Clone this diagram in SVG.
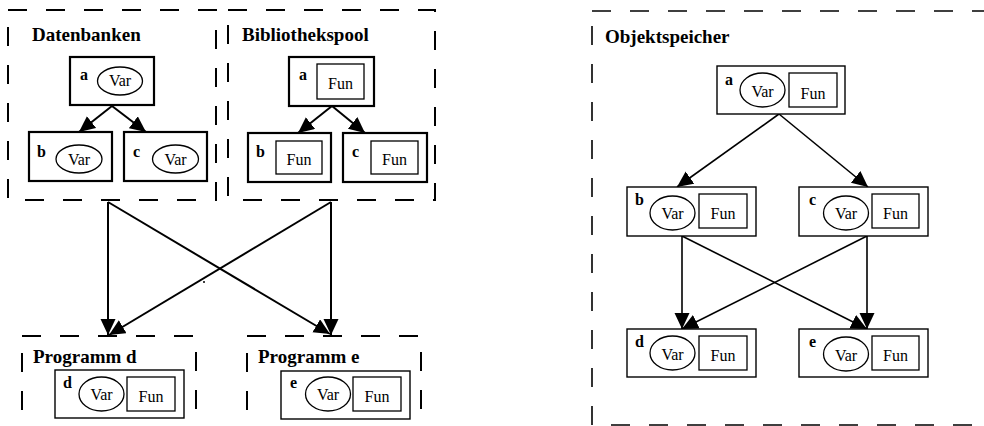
<svg xmlns="http://www.w3.org/2000/svg" width="984" height="426" viewBox="0 0 984 426">
  <style>
    .cluster { fill: none; stroke: #000; stroke-width: 2; stroke-dasharray: 19 19; }
    .cluster-thin { fill: none; stroke: #000; stroke-width: 1.6; stroke-dasharray: 19 19; }
    .title { font-family: "Liberation Serif", "Times New Roman", serif; font-weight: bold; font-size: 19px; fill: #000; }
    .node-thick { fill: #fff; stroke: #000; stroke-width: 2.2; }
    .node { fill: #fff; stroke: #000; stroke-width: 1.4; }
    .part { fill: #fff; stroke: #000; stroke-width: 1.3; }
    .id { font-family: "Liberation Serif", "Times New Roman", serif; font-weight: bold; font-size: 16px; fill: #000; }
    .lbl { font-family: "Liberation Serif", "Times New Roman", serif; font-size: 16px; fill: #000; text-anchor: middle; }
    .edge { fill: none; stroke: #000; stroke-width: 2; marker-end: url(#arrow); }
    .edge-thin { fill: none; stroke: #000; stroke-width: 1.6; marker-end: url(#arrow); }
  </style>
  <defs>
    <marker id="arrow" markerUnits="userSpaceOnUse" markerWidth="18" markerHeight="16" refX="16" refY="7.5" orient="auto">
      <path d="M0,0 L16,7.5 L0,15 z" fill="#000"/>
    </marker>
  </defs>
  <rect width="984" height="426" fill="#fff"/>

  <!-- clusters -->
  <g id="cluster-datenbanken">
    <rect class="cluster" x="8" y="10" width="208" height="190"/>
    <text class="title" x="32" y="41">Datenbanken</text>
  </g>
  <g id="cluster-bibliothekspool">
    <rect class="cluster" x="228" y="10" width="207" height="190"/>
    <text class="title" x="242" y="41">Bibliothekspool</text>
  </g>
  <g id="cluster-programm-d">
    <rect class="cluster" x="22" y="336" width="174" height="110"/>
    <text class="title" x="33" y="363">Programm d</text>
  </g>
  <g id="cluster-programm-e">
    <rect class="cluster" x="247" y="336" width="174" height="110"/>
    <text class="title" x="258" y="363">Programm e</text>
  </g>
  <g id="cluster-objektspeicher">
    <rect class="cluster-thin" x="592" y="11" width="420" height="414"/>
    <text class="title" x="605" y="43">Objektspeicher</text>
  </g>

  <!-- connectors -->
  <g id="connectors">
    <line class="edge" x1="112" y1="106" x2="79" y2="132"/>
    <line class="edge" x1="112" y1="106" x2="146" y2="132"/>
    <line class="edge" x1="332" y1="106" x2="298" y2="133"/>
    <line class="edge" x1="332" y1="106" x2="365" y2="133"/>
    <line class="edge" x1="108" y1="202" x2="108" y2="335"/>
    <line class="edge" x1="108" y1="202" x2="330" y2="334"/>
    <line class="edge" x1="331" y1="202" x2="331" y2="335"/>
    <line class="edge" x1="331" y1="202" x2="109" y2="335"/>
    <line class="edge-thin" x1="779" y1="114" x2="677" y2="187"/>
    <line class="edge-thin" x1="779" y1="114" x2="868" y2="187"/>
    <line class="edge-thin" x1="682" y1="236" x2="682" y2="329"/>
    <line class="edge-thin" x1="682" y1="236" x2="867" y2="329"/>
    <line class="edge-thin" x1="867" y1="236" x2="867" y2="329"/>
    <line class="edge-thin" x1="867" y1="236" x2="682" y2="329"/>
  </g>
  <circle id="point" cx="204" cy="282" r="1" fill="#000"/>

  <!-- Datenbanken nodes -->
  <g id="db-a">
    <rect class="node-thick" x="70" y="57" width="84" height="48"/>
    <text class="id" x="80" y="80">a</text>
    <ellipse class="part" cx="120" cy="81" rx="22.5" ry="14"/>
    <text class="lbl" x="120" y="86">Var</text>
  </g>
  <g id="db-b">
    <rect class="node-thick" x="29" y="132" width="83" height="49"/>
    <text class="id" x="37" y="157">b</text>
    <ellipse class="part" cx="79" cy="159" rx="23" ry="14"/>
    <text class="lbl" x="79" y="165">Var</text>
  </g>
  <g id="db-c">
    <rect class="node-thick" x="124" y="132" width="83" height="49"/>
    <text class="id" x="133" y="157">c</text>
    <ellipse class="part" cx="175.5" cy="159" rx="23" ry="14"/>
    <text class="lbl" x="175.5" y="165">Var</text>
  </g>

  <!-- Bibliothekspool nodes -->
  <g id="lib-a">
    <rect class="node-thick" x="289" y="57" width="85" height="49"/>
    <text class="id" x="299" y="80">a</text>
    <rect class="part" x="317" y="64" width="47" height="35"/>
    <text class="lbl" x="340.5" y="89">Fun</text>
  </g>
  <g id="lib-b">
    <rect class="node-thick" x="248" y="133" width="83" height="49"/>
    <text class="id" x="256" y="157">b</text>
    <rect class="part" x="276" y="141" width="46" height="33"/>
    <text class="lbl" x="299" y="165">Fun</text>
  </g>
  <g id="lib-c">
    <rect class="node-thick" x="343" y="133" width="84" height="49"/>
    <text class="id" x="352" y="157">c</text>
    <rect class="part" x="371" y="141" width="47" height="33"/>
    <text class="lbl" x="394.5" y="165">Fun</text>
  </g>

  <!-- Programm nodes -->
  <g id="prog-d">
    <rect class="node" x="55" y="370" width="129" height="48"/>
    <text class="id" x="63" y="388">d</text>
    <ellipse class="part" cx="101.5" cy="394" rx="22.5" ry="17"/>
    <text class="lbl" x="101.5" y="400">Var</text>
    <rect class="part" x="127" y="377" width="48" height="34"/>
    <text class="lbl" x="151" y="402">Fun</text>
  </g>
  <g id="prog-e">
    <rect class="node" x="281" y="371" width="129" height="48"/>
    <text class="id" x="290" y="388">e</text>
    <ellipse class="part" cx="328" cy="394" rx="22.5" ry="17"/>
    <text class="lbl" x="328" y="400">Var</text>
    <rect class="part" x="353" y="377" width="48" height="34"/>
    <text class="lbl" x="377" y="402">Fun</text>
  </g>

  <!-- Objektspeicher nodes -->
  <g id="obj-a">
    <rect class="node" x="717" y="66" width="128" height="48"/>
    <text class="id" x="725" y="85">a</text>
    <ellipse class="part" cx="762.5" cy="90" rx="22.5" ry="17"/>
    <text class="lbl" x="762.5" y="97">Var</text>
    <rect class="part" x="789" y="73" width="48" height="34"/>
    <text class="lbl" x="813" y="99">Fun</text>
  </g>
  <g id="obj-b">
    <rect class="node" x="627" y="187" width="129" height="49"/>
    <text class="id" x="635" y="205">b</text>
    <ellipse class="part" cx="672.5" cy="213" rx="22.5" ry="17"/>
    <text class="lbl" x="672.5" y="219">Var</text>
    <rect class="part" x="699" y="194" width="48" height="34"/>
    <text class="lbl" x="723" y="219">Fun</text>
  </g>
  <g id="obj-c">
    <rect class="node" x="799" y="187" width="129" height="49"/>
    <text class="id" x="809" y="205">c</text>
    <ellipse class="part" cx="846" cy="213" rx="22.5" ry="17"/>
    <text class="lbl" x="846" y="219">Var</text>
    <rect class="part" x="872" y="194" width="47" height="34"/>
    <text class="lbl" x="895.5" y="219">Fun</text>
  </g>
  <g id="obj-d">
    <rect class="node" x="627" y="329" width="129" height="48"/>
    <text class="id" x="635" y="347">d</text>
    <ellipse class="part" cx="672.5" cy="353" rx="22.5" ry="17"/>
    <text class="lbl" x="672.5" y="360">Var</text>
    <rect class="part" x="699" y="336" width="48" height="34"/>
    <text class="lbl" x="723" y="361">Fun</text>
  </g>
  <g id="obj-e">
    <rect class="node" x="799" y="329" width="129" height="48"/>
    <text class="id" x="809" y="347">e</text>
    <ellipse class="part" cx="846" cy="354" rx="22.5" ry="17"/>
    <text class="lbl" x="846" y="361">Var</text>
    <rect class="part" x="872" y="336" width="47" height="34"/>
    <text class="lbl" x="895.5" y="361">Fun</text>
  </g>
</svg>
